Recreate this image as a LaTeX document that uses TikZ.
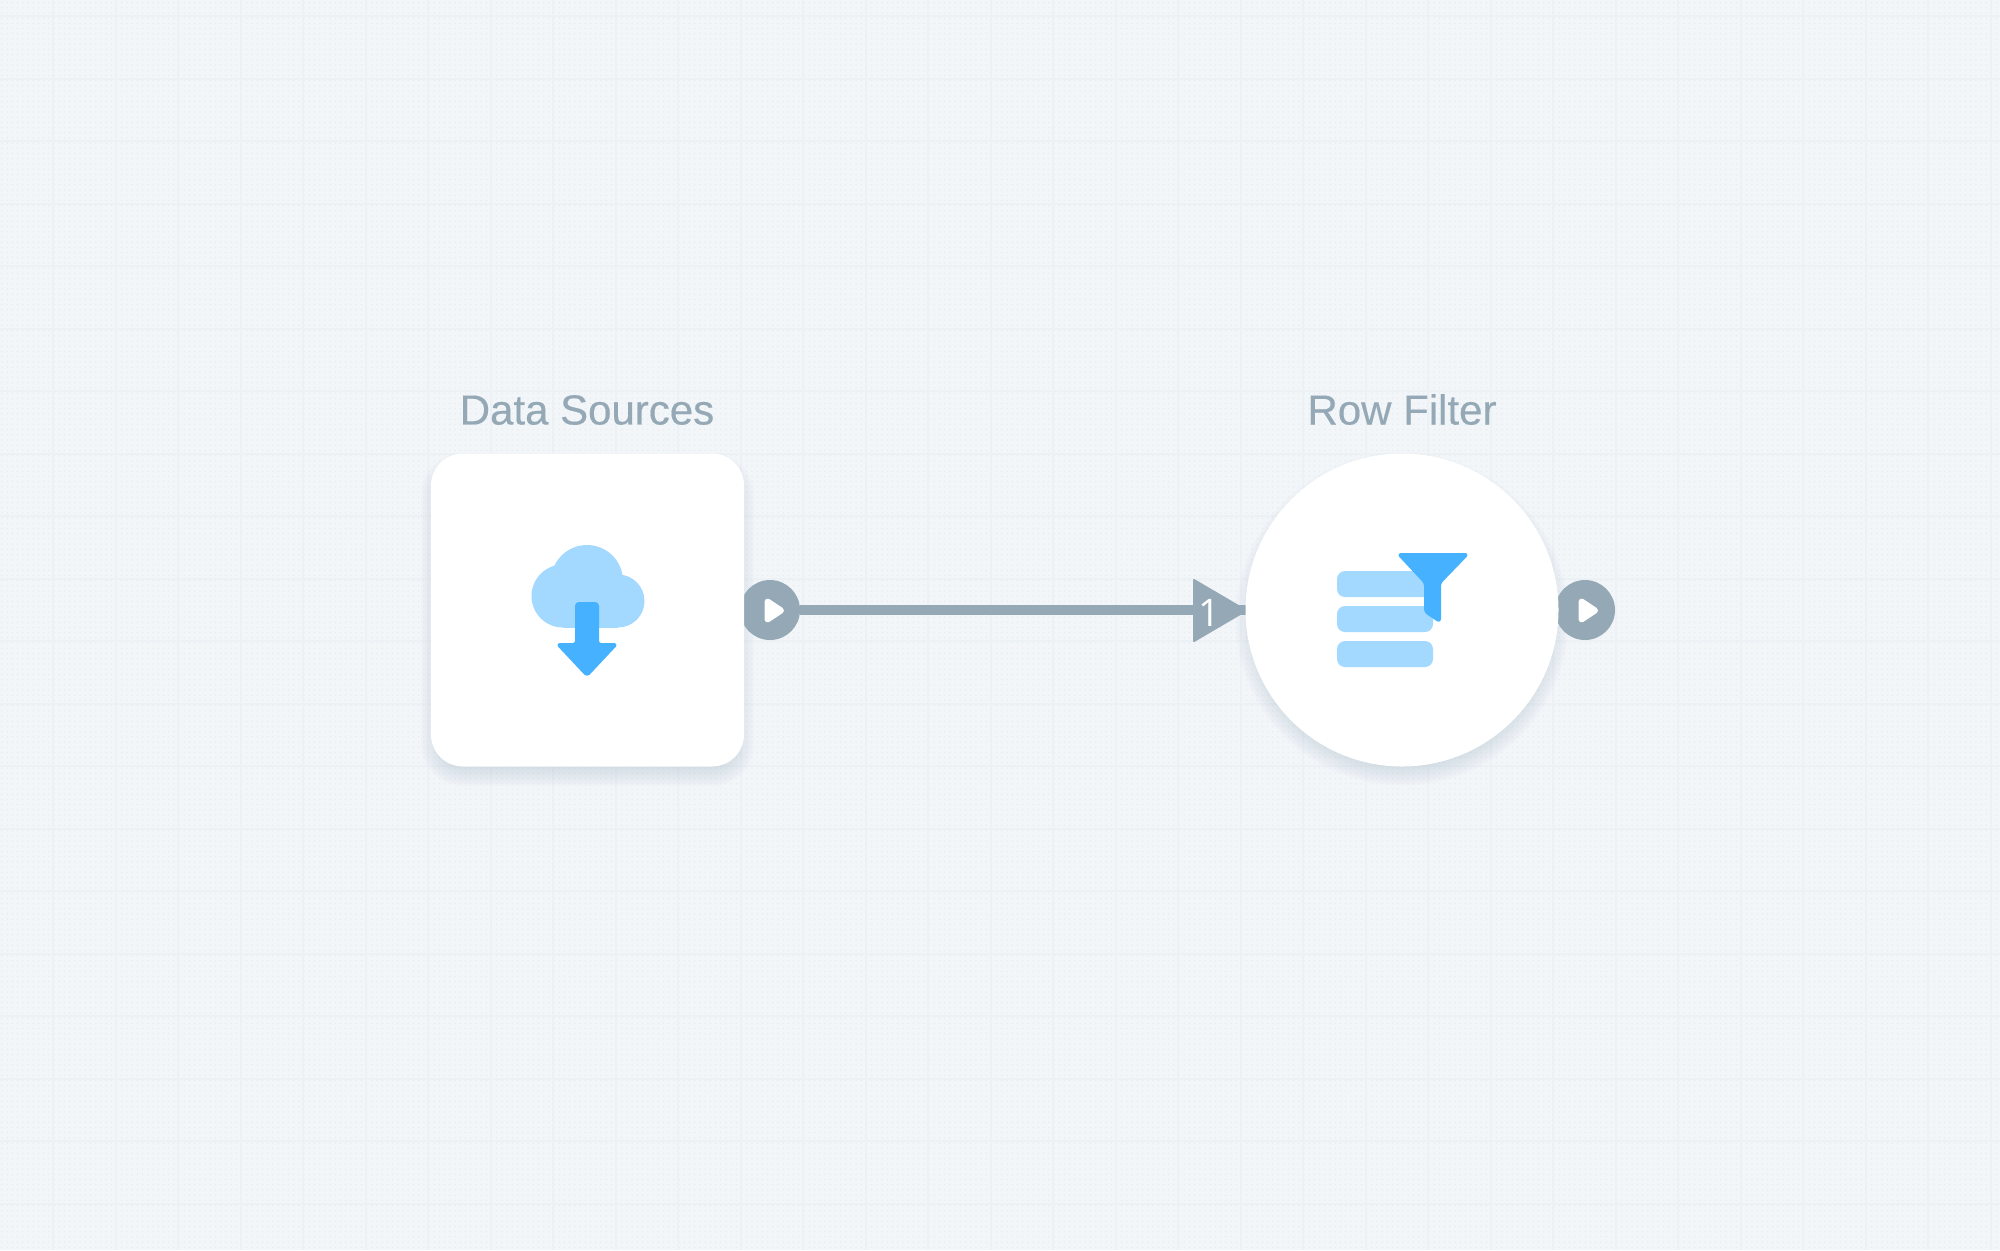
\documentclass[tikz,border=0pt]{standalone}
\usepackage{fontspec}
\setmainfont{Liberation Sans}
\newfontfamily\titlefont[FakeBold=0.35]{Liberation Sans}
\newfontfamily\countfont{Open Sans}
\usetikzlibrary{backgrounds}
\definecolor{bgc}{HTML}{F2F6F9}
\definecolor{gridc}{HTML}{ECF1F5}
\definecolor{dotc}{HTML}{E5EBF1}
\definecolor{slatec}{HTML}{94A8B5}
\definecolor{lightb}{HTML}{A3D9FF}
\definecolor{darkb}{HTML}{45B1FF}
\definecolor{shc}{HTML}{5A6E7D}
\pgfdeclarelayer{back}
\pgfsetlayers{back,main}
\tikzset{
  x=0.5pt,y=-0.5pt,
  cardnode/.style={fill=white,inner sep=0pt,outer sep=0pt},
  squarecard/.style={cardnode,rectangle,rounded corners=16pt,minimum width=156.5pt,minimum height=156.5pt},
  roundcard/.style={cardnode,circle,minimum size=156.5pt},
  portnode/.style={circle,fill=slatec,inner sep=0pt,outer sep=0pt,minimum size=30pt},
  title/.style={text=slatec,font=\titlefont\fontsize{21}{24}\selectfont,inner sep=0pt},
  countlabel/.style={text=white,font=\countfont\fontsize{19}{22}\selectfont,inner sep=0pt},
  wire/.style={draw=slatec,line width=5pt},
  tiptri/.style={fill=slatec,draw=slatec,line width=1pt,line join=round},
  playtri/.style={fill=white,draw=white,line width=3pt,line join=round},
  lightfill/.style={fill=lightb},
  darkfill/.style={fill=darkb,draw=darkb,line width=1pt,line join=round},
  rowbar/.style={fill=lightb,rounded corners=4pt},
  softshadow/.style={fill=shc,opacity=0.014},
}
\begin{document}
\begin{tikzpicture}
\useasboundingbox (0,0) rectangle (2000,1250);
% nodes on top
\node[squarecard] (src) at (587.5,610) {};
\node[roundcard] (flt) at (1402,610) {};
\node[title] (srct) at (587,410) {Data Sources};
\node[title] (fltt) at (1402,409.5) {Row Filter};
% everything beneath the cards
\begin{pgfonlayer}{back}
  \fill[bgc] (0,0) rectangle (2000,1250);
  \foreach \i in {0,...,240}{
    \draw[dotc,line width=0.75pt,line cap=round,dash pattern=on 0pt off 2.604pt,dash phase=-1.0pt] (0,{2.5+\i*5.208}) -- (2000,{2.5+\i*5.208});
  }
  \foreach \i in {0,...,32}{
    \draw[gridc,line width=1pt] ({53+\i*62.5},0) -- ({53+\i*62.5},1250);
  }
  \foreach \i in {0,...,20}{
    \draw[gridc,line width=1pt] (0,{16+\i*62.5}) -- (2000,{16+\i*62.5});
  }
  % soft shadows
  \foreach \g in {-8,-6,...,10}{
    \fill[softshadow,rounded corners={16pt+\g*0.5pt}] ({431-\g},{463-\g}) rectangle ({744+\g},{776+\g});
    \fill[softshadow] (1402,619) circle ({156.5+\g});
  }
  % ports and connector
  \node[portnode] (srcport) at (770,610) {};
  \node[portnode] (fltport) at (1585,610) {};
  \path[wire] (srcport.east) -- (flt.west);
  \path[tiptri] (1194,580) -- (1246,610.5) -- (1194,641) -- cycle;
\end{pgfonlayer}
\path[playtri] (767.5,601.5) -- (781,610.5) -- (767.5,619.5) -- cycle;
\path[playtri] (1581.5,601.5) -- (1595,610.5) -- (1581.5,619.5) -- cycle;
\node[countlabel] (cnt) at (1209,613) {1};
% icon: cloud
\fill[lightfill] (587,581) circle (36);
\fill[lightfill] (563,596) circle (31.5);
\fill[lightfill] (618,601) circle (26.5);
\fill[lightfill] (563,590) rectangle (618,627.5);
\path[darkfill,rounded corners=1.5pt] (576,603) -- (598,603) -- (598,644) -- (617,644) -- (587,676) -- (557,644) -- (576,644) -- cycle;
% icon: rows and funnel
\fill[rowbar] (1337,571) rectangle (1433,597);
\fill[rowbar] (1337,606) rectangle (1433,632);
\fill[rowbar] (1337,641) rectangle (1433,667);
\path[darkfill,rounded corners=1.5pt] (1398,554) -- (1468,554) -- (1440,583) -- (1440,622) -- (1425,612) -- (1425,583) -- cycle;
\end{tikzpicture}
\end{document}
